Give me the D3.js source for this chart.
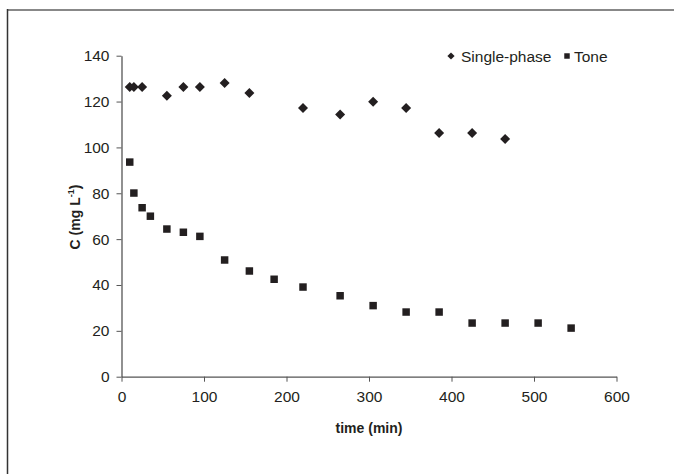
<!DOCTYPE html>
<html lang="en">
<head>
<meta charset="UTF-8">
<title>C vs time</title>
<script src="https://d3js.org/d3.v7.min.js"></script>
<style>
    body { margin: 0; background: #fff; }
    svg text { font-family: 'Liberation Sans', Arial, sans-serif; fill: #231f20; }
</style>
</head>
<body>
<svg id="chart" width="674" height="474"></svg>
<script>
const singleTime = [10, 15, 25, 55, 75, 95, 125, 155, 220, 265, 305, 345, 385, 425, 465];
const singleC = [126.3, 126.3, 126.3, 122.5, 126.3, 126.3, 128.1, 123.7, 117.2, 114.4, 119.9, 117.2, 106.3, 106.3, 103.7];
const toneTime = [10, 15, 25, 35, 55, 75, 95, 125, 155, 185, 220, 265, 305, 345, 385, 425, 465, 505, 545];
const toneC = [93.6, 80.1, 73.7, 70.0, 64.4, 63.0, 61.2, 50.9, 46.1, 42.5, 39.1, 35.3, 31.0, 28.2, 28.2, 23.4, 23.4, 23.4, 21.2];
const xTicks = [0, 100, 200, 300, 400, 500, 600];
const yTicks = [0, 20, 40, 60, 80, 100, 120, 140];

const svg = d3.select("#chart");
const ink = "#231f20";

// outer frame (only top and left edges show)
svg.append("line").attr("x1", 7).attr("x2", 674).attr("y1", 10).attr("y2", 10)
    .attr("stroke", "#888").attr("stroke-width", 2);
svg.append("line").attr("x1", 7.5).attr("x2", 7.5).attr("y1", 9).attr("y2", 474)
    .attr("stroke", "#333").attr("stroke-width", 1.5);

const x = d3.scaleLinear().domain([0, 600]).range([121.5, 616.5]);
const y = d3.scaleLinear().domain([0, 140]).range([376.7, 55.7]);

const xAxis = svg.append("g")
    .attr("transform", `translate(0,${y(0)})`)
    .call(d3.axisBottom(x).tickValues(xTicks).tickSize(5).tickPadding(9).tickSizeOuter(0));
const yAxis = svg.append("g")
    .attr("transform", `translate(${x(0)},0)`)
    .call(d3.axisLeft(y).tickValues(yTicks).tickSize(5).tickPadding(7).tickSizeOuter(0));

[xAxis, yAxis].forEach(a => {
    a.attr("font-size", 15.5);
    a.select(".domain").attr("stroke", "#555").attr("stroke-width", 1.3);
    a.selectAll(".tick line").attr("stroke", "#555").attr("stroke-width", 1);
    a.selectAll(".tick text").attr("fill", ink)
        .attr("font-family", "'Liberation Sans', Arial, sans-serif");
});

// axis titles
svg.append("text")
    .attr("x", 369).attr("y", 433)
    .attr("text-anchor", "middle")
    .attr("font-size", 14).attr("font-weight", "bold")
    .text("time (min)");

const yl = svg.append("text")
    .attr("transform", "translate(80,217) rotate(-90)")
    .attr("text-anchor", "middle")
    .attr("font-size", 14).attr("font-weight", "bold");
yl.append("tspan").text("C  (mg L");
yl.append("tspan").attr("dy", -6).attr("font-size", 9).text("-1");
yl.append("tspan").attr("dy", 6).text(")");

const diamond = d3.symbol().type(d3.symbolSquare).size(50);
const square = d3.symbol().type(d3.symbolSquare).size(56);

svg.append("g").selectAll("path")
    .data(singleTime.map((t, i) => [t, singleC[i]]))
    .join("path")
    .attr("d", diamond)
    .attr("transform", d => `translate(${x(d[0])},${y(d[1])}) rotate(45)`)
    .attr("fill", ink);

svg.append("g").selectAll("path")
    .data(toneTime.map((t, i) => [t, toneC[i]]))
    .join("path")
    .attr("d", square)
    .attr("transform", d => `translate(${x(d[0])},${y(d[1])})`)
    .attr("fill", ink);

// legend
const lg = svg.append("g").attr("transform", "translate(451,56)");
lg.append("path").attr("d", d3.symbol().type(d3.symbolSquare).size(26))
    .attr("transform", "rotate(45)").attr("fill", ink);
lg.append("text").attr("x", 10).attr("y", 5.5).attr("font-size", 15.5).text("Single-phase");
lg.append("path").attr("d", d3.symbol().type(d3.symbolSquare).size(30))
    .attr("transform", "translate(116,0)").attr("fill", ink);
lg.append("text").attr("x", 123).attr("y", 5.5).attr("font-size", 15.5).text("Tone");
</script>
</body>
</html>
